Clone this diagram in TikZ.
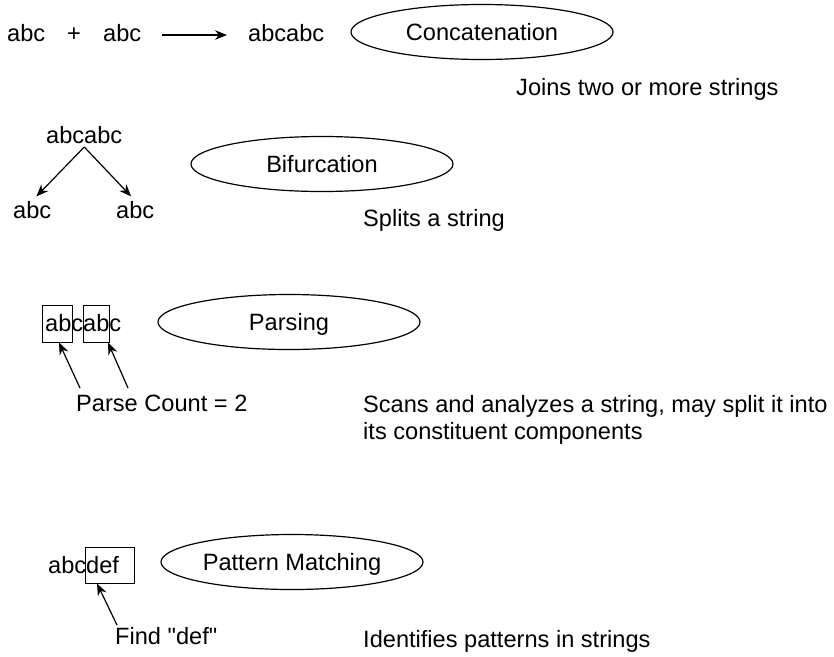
\documentclass[tikz,border=0pt]{standalone}
\usepackage{fontspec}
\setmainfont{Liberation Sans}[Ligatures=TeXOff]
\usetikzlibrary{arrows.meta,shapes.geometric,calc}
\begin{document}
\begin{tikzpicture}[x=1pt,y=-1pt,
  txt/.style={font=\fontsize{23.6}{27}\selectfont, inner sep=0pt, anchor=base west},
  oval/.style={draw, ellipse, line width=1.2pt, minimum width=262pt, minimum height=55pt, inner sep=0pt, font=\fontsize{23.6}{27}\selectfont, text height=16.9pt, text depth=0pt},
  arr/.style={line width=1.2pt, -{Stealth[length=12pt,width=9.5pt]}},
  hbox/.style={draw, line width=1pt, inner sep=0pt}]
\useasboundingbox (0,0) rectangle (834,656);
% Row 1: concatenation
\node[txt] (a1) at (7,41) {abc};
\node[txt, anchor=base] (plus) at (74,41) {+};
\node[txt] (a2) at (103,41) {abc};
\node[txt] (cat) at (248,41) {abcabc};
\draw[arr] ($(a2.base east)+(21,-6)$) -- ($(cat.base west)+(-21,-6)$);
\node[oval] (concat) at (482,32) {Concatenation};
\node[txt] (joins) at (516,95) {Joins two or more strings};
% Row 2: bifurcation
\node[txt] (top) at (46,143) {abcabc};
\node[txt] (left) at (13,218) {abc};
\node[txt] (right) at (116,218) {abc};
\draw[arr, shorten >=6pt] ($(top.base)+(0,4)$) -- (left.north);
\draw[arr, shorten >=6pt] ($(top.base)+(0,4)$) -- (right.north);
\node[oval] (bif) at (322,164) {Bifurcation};
\node[txt] (splits) at (363,226) {Splits a string};
% Row 3: parsing
\node[txt] (ptext) at (45,331) {abcabc};
\node[hbox, minimum width=30pt, minimum height=37pt] (b1) at (57,323.5) {};
\node[hbox, minimum width=26pt, minimum height=37pt] (b2) at (96,323.5) {};
\node[txt] (pc) at (76,411) {Parse Count = 2};
\draw[arr] ($(pc.base west)+(4,-23)$) -- ([xshift=2pt]b1.south);
\draw[arr] ($(pc.base west)+(52,-23)$) -- ([xshift=12pt]b2.south);
\node[oval] (pars) at (289,322) {Parsing};
\node[txt] (scan1) at (363,412) {Scans and analyzes a string, may split it into};
\node[txt] (scan2) at (363,439) {its constituent components};
% Row 4: pattern matching
\node[txt] (mtext) at (48,573) {abcdef};
\node[hbox, minimum width=49pt, minimum height=36pt] (b3) at (109.5,565) {};
\node[txt] (find) at (115,644) {Find "def"};
\draw[arr] ($(find.base west)+(2,-19)$) -- ([xshift=-12.5pt]b3.south);
\node[oval] (pm) at (292,562) {Pattern Matching};
\node[txt] (ident) at (363,647) {Identifies patterns in strings};
\end{tikzpicture}
\end{document}
